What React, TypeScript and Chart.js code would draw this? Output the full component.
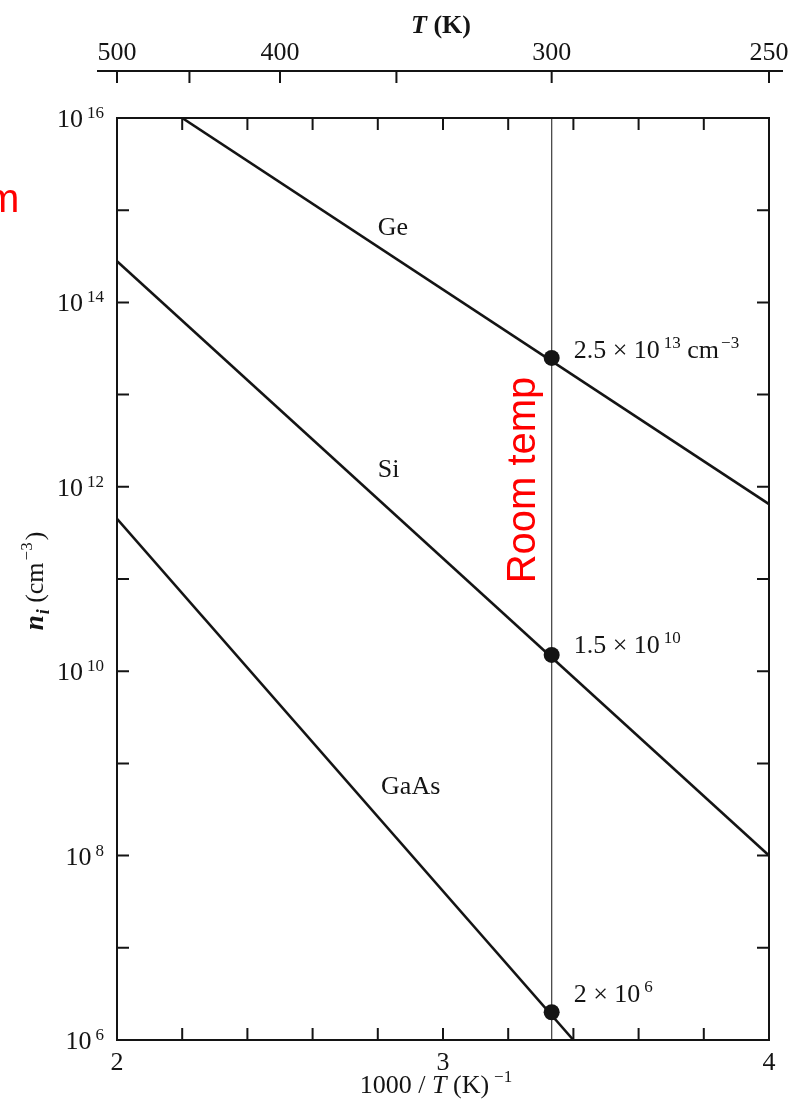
import React, { useEffect, useRef } from "react";
import { Chart, registerables } from "chart.js";

Chart.register(...registerables);

// Intrinsic carrier density n_i versus 1000/T — straight lines on a log axis.
const geInvT = [2.2, 4.0];
const geDensity = [1e16, 6.5e11];
const siInvT = [2.0, 4.0];
const siDensity = [2.8e14, 1.0e8];
const gaAsInvT = [2.0, 3.4];
const gaAsDensity = [4.5e11, 1.0e6];

const materialNames = ["Ge", "Si", "GaAs"];
// Anchor (1000/T, n_i) where each material name is written
const nameAtInvT = [2.8, 2.8, 2.81];
const nameAtDensity = [5.4e14, 1.28e12, 4.66e8];

// Room-temperature values (Ge, Si, GaAs)
const roomTemperature = 300; // K
const roomTempDensity = [2.5e13, 1.5e10, 2e6];

// Bottom axis: 1000/T
const invTMin = 2;
const invTMax = 4;
const invTLabels = [2, 3, 4];
const invTMinorTicks = [2.2, 2.4, 2.6, 2.8, 3.0, 3.2, 3.4, 3.6, 3.8];

// Left axis: decades of n_i
const decadeTicks = [6, 7, 8, 9, 10, 11, 12, 13, 14, 15, 16];
const decadeLabels = [6, 8, 10, 12, 14, 16];

// Top axis: temperature in K
const tempTicks = [500, 450, 400, 350, 300, 250];
const tempLabels = [500, 400, 300, 250];

const INK = "#141414";
const RED = "#ff0000";
const SERIF = '"Liberation Serif", "Times New Roman", serif';
const SANS = '"Liberation Sans", Arial, sans-serif';
const serif = (size: number, style = "") => `${style} ${size}px ${SERIF}`.trim();

type Run = { t: string; f: string; dy?: number; dx?: number };

function runsWidth(ctx: CanvasRenderingContext2D, runs: Run[]) {
  let w = 0;
  for (const r of runs) {
    ctx.font = r.f;
    w += ctx.measureText(r.t).width + (r.dx || 0);
  }
  return w;
}

function drawRuns(
  ctx: CanvasRenderingContext2D,
  runs: Run[],
  x: number,
  y: number,
  align: "left" | "center" | "right" = "left"
) {
  const w = runsWidth(ctx, runs);
  let cx = align === "left" ? x : align === "center" ? x - w / 2 : x - w;
  ctx.textAlign = "left";
  ctx.textBaseline = "alphabetic";
  for (const r of runs) {
    ctx.font = r.f;
    cx += r.dx || 0;
    ctx.fillText(r.t, cx, y + (r.dy || 0));
    cx += ctx.measureText(r.t).width;
  }
}

function mantissaOf(v: number) {
  const e = Math.floor(Math.log10(v) + 1e-9);
  const m = Number((v / Math.pow(10, e)).toFixed(2));
  return { m: String(m), e };
}

const framePlugin = {
  id: "frameAndLabels",
  afterDraw(chart: any) {
    const { ctx, chartArea: a, scales } = chart;
    const xs = scales.x;
    const ys = scales.y;
    ctx.save();
    ctx.strokeStyle = INK;
    ctx.fillStyle = INK;
    ctx.lineCap = "butt";

    // Plot frame
    ctx.lineWidth = 2;
    ctx.strokeRect(a.left, a.top, a.right - a.left, a.bottom - a.top);

    // Inward ticks
    const tl = 12;
    ctx.beginPath();
    for (const v of invTMinorTicks) {
      const px = xs.getPixelForValue(v);
      ctx.moveTo(px, a.bottom);
      ctx.lineTo(px, a.bottom - tl);
      ctx.moveTo(px, a.top);
      ctx.lineTo(px, a.top + tl);
    }
    for (const e of decadeTicks) {
      const py = ys.getPixelForValue(Math.pow(10, e));
      ctx.moveTo(a.left, py);
      ctx.lineTo(a.left + tl, py);
      ctx.moveTo(a.right, py);
      ctx.lineTo(a.right - tl, py);
    }
    ctx.stroke();

    // Left tick labels 10^e
    for (const e of decadeLabels) {
      const py = ys.getPixelForValue(Math.pow(10, e));
      drawRuns(
        ctx,
        [
          { t: "10", f: serif(26) },
          { t: String(e), f: serif(17), dy: -9, dx: 4 },
        ],
        a.left - 13,
        py + 9,
        "right"
      );
    }

    // Bottom tick labels
    for (const v of invTLabels) {
      drawRuns(ctx, [{ t: String(v), f: serif(26) }], xs.getPixelForValue(v), a.bottom + 30, "center");
    }

    // Bottom title: 1000 / T (K)^-1
    drawRuns(
      ctx,
      [
        { t: "1000 / ", f: serif(26) },
        { t: "T", f: serif(26, "italic") },
        { t: " (K)", f: serif(26) },
        { t: "\u22121", f: serif(17), dy: -11, dx: 5 },
      ],
      (a.left + a.right) / 2 - 7,
      a.bottom + 53,
      "center"
    );

    // Left title: n_i (cm^-3)
    ctx.save();
    ctx.translate(43, (a.top + a.bottom) / 2 + 2);
    ctx.rotate(-Math.PI / 2);
    drawRuns(
      ctx,
      [
        { t: "n", f: serif(27, "italic bold") },
        { t: "i", f: serif(18, "italic bold"), dy: 6, dx: 1 },
        { t: " (cm", f: serif(26) },
        { t: "\u22123", f: serif(17), dy: -11, dx: 2 },
        { t: ")", f: serif(26), dx: 2 },
      ],
      0,
      0,
      "center"
    );
    ctx.restore();

    // Top temperature axis
    const axisY = a.top - 47;
    ctx.lineWidth = 2;
    ctx.beginPath();
    ctx.moveTo(a.left - 20, axisY);
    ctx.lineTo(a.right + 14, axisY);
    for (const T of tempTicks) {
      const px = xs.getPixelForValue(1000 / T);
      ctx.moveTo(px, axisY);
      ctx.lineTo(px, axisY + 12);
    }
    ctx.stroke();
    for (const T of tempLabels) {
      drawRuns(ctx, [{ t: String(T), f: serif(26) }], xs.getPixelForValue(1000 / T), axisY - 11, "center");
    }
    drawRuns(
      ctx,
      [
        { t: "T", f: serif(26, "italic bold") },
        { t: " (K)", f: serif(26, "bold") },
      ],
      (a.left + a.right) / 2 - 2,
      a.top - 85,
      "center"
    );

    // Material names
    materialNames.forEach((name, i) => {
      drawRuns(
        ctx,
        [{ t: name, f: serif(26) }],
        xs.getPixelForValue(nameAtInvT[i]),
        ys.getPixelForValue(nameAtDensity[i]),
        "left"
      );
    });

    // Room-temperature value labels
    const xRoom = xs.getPixelForValue(1000 / roomTemperature);
    const labelDy = [0, -2, -10];
    roomTempDensity.forEach((v, i) => {
      const { m, e } = mantissaOf(v);
      const runs: Run[] = [
        { t: `${m} \u00d7 10`, f: serif(26) },
        { t: String(e), f: serif(17), dy: -10, dx: 4 },
      ];
      if (i === 0) {
        runs.push({ t: " cm", f: serif(26) });
        runs.push({ t: "\u22123", f: serif(17), dy: -10, dx: 2 });
      }
      drawRuns(ctx, runs, xRoom + 22, ys.getPixelForValue(v) + labelDy[i], "left");
    });

    // Red annotations
    ctx.fillStyle = RED;
    ctx.save();
    ctx.translate(xRoom - 17, a.top + 362);
    ctx.rotate(-Math.PI / 2);
    ctx.font = `40px ${SANS}`;
    ctx.textAlign = "center";
    ctx.textBaseline = "alphabetic";
    ctx.fillText("Room temp", 0, 0);
    ctx.restore();
    ctx.font = `40px ${SANS}`;
    ctx.textAlign = "left";
    ctx.textBaseline = "alphabetic";
    ctx.fillText("m", -14, a.top + 94);

    ctx.restore();
  },
};

const zip = (xs: number[], ys: number[]) => xs.map((x, i) => ({ x, y: ys[i] }));

export default function App() {
  const canvasRef = useRef<HTMLCanvasElement | null>(null);

  useEffect(() => {
    const canvas = canvasRef.current;
    if (!canvas) return;
    const xRoom = 1000 / roomTemperature;
    const chart = new Chart(canvas, {
      type: "line",
      data: {
        datasets: [
          {
            label: "300 K",
            data: roomTempDensity.map((y) => ({ x: xRoom, y })),
            showLine: false,
            pointRadius: 8,
            pointBackgroundColor: INK,
            pointBorderWidth: 0,
            order: 0,
          },
          {
            label: "Ge",
            data: zip(geInvT, geDensity),
            borderColor: INK,
            borderWidth: 2.6,
            pointRadius: 0,
            order: 1,
          },
          {
            label: "Si",
            data: zip(siInvT, siDensity),
            borderColor: INK,
            borderWidth: 2.6,
            pointRadius: 0,
            order: 1,
          },
          {
            label: "GaAs",
            data: zip(gaAsInvT, gaAsDensity),
            borderColor: INK,
            borderWidth: 2.6,
            pointRadius: 0,
            order: 1,
          },
          {
            label: "T = 300 K",
            data: [
              { x: xRoom, y: 1e6 },
              { x: xRoom, y: 1e16 },
            ],
            borderColor: "#4a4a4a",
            borderWidth: 1.3,
            pointRadius: 0,
            order: 2,
          },
        ],
      },
      options: {
        responsive: false,
        animation: false,
        devicePixelRatio: 1,
        events: [],
        layout: { padding: { left: 117, right: 25, top: 118, bottom: 65 } },
        plugins: { legend: { display: false }, tooltip: { enabled: false } },
        scales: {
          x: {
            type: "linear",
            min: invTMin,
            max: invTMax,
            ticks: { display: false },
            grid: { display: false },
            border: { display: false },
            afterFit: (s: any) => {
              s.height = 0;
            },
          },
          y: {
            type: "logarithmic",
            min: 1e6,
            max: 1e16,
            ticks: { display: false },
            grid: { display: false },
            border: { display: false },
            afterFit: (s: any) => {
              s.width = 0;
            },
          },
        },
      } as any,
      plugins: [framePlugin],
    });
    return () => chart.destroy();
  }, []);

  return (
    <div style={{ position: "absolute", left: 0, top: 0, width: 794, height: 1105, background: "#fff" }}>
      <canvas ref={canvasRef} width={794} height={1105} style={{ display: "block" }} />
    </div>
  );
}
